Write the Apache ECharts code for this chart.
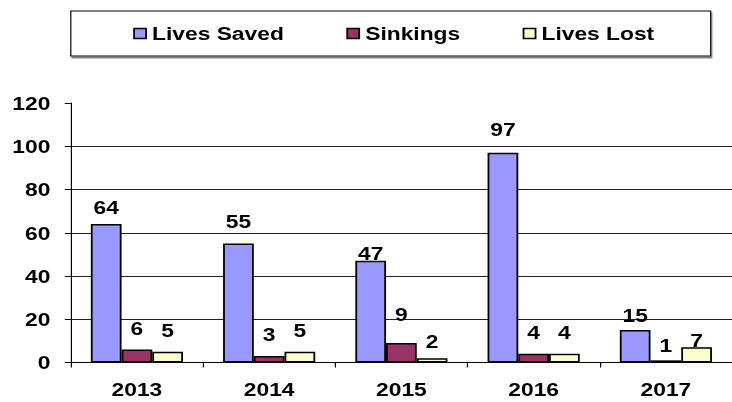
<!DOCTYPE html>
<html>
<head>
<meta charset="utf-8">
<script src="https://cdn.jsdelivr.net/npm/echarts@6/dist/echarts.min.js"></script>
<style>
    html, body { margin: 0; padding: 0; background: #fff; overflow: hidden; }
    /* the source picture is stretched sideways, so draw narrow and widen it */
    #main { width: 610px; height: 402px; transform: scaleX(1.2); transform-origin: 0 0; }
</style>
</head>
<body>
<div id="main"></div>
<script>
const years = ['2013', '2014', '2015', '2016', '2017'];
const livesSaved = [64, 55, 47, 97, 15];
const sinkings = [6, 3, 9, 4, 1];
const livesLost = [5, 5, 2, 4, 7];

// small hand nudges of the value labels, as in the source
const savedNudge = [5, -1, 14, -2, 7];
const sinkNudge = [0, 0, -7, 0, 6];
const lostNudge = [0, 0, 5, 0, 14];

const font = 'Arial, "Liberation Sans", sans-serif';

function makeSeries(name, values, nudge, color) {
    return {
        name: name,
        type: 'bar',
        barWidth: 25.6,
        barGap: 0,
        itemStyle: { color: color, borderColor: '#000', borderWidth: 1.5 },
        label: {
            show: true,
            position: 'top',
            distance: 12,
            color: '#000',
            fontFamily: font,
            fontWeight: 'bold',
            fontSize: 19
        },
        data: values.map((v, i) => ({ value: v, label: { offset: [0, nudge[i]] } }))
    };
}

const chart = echarts.init(document.getElementById('main'), null, { renderer: 'svg' });
chart.setOption({
    animation: false,
    backgroundColor: '#fff',
    legend: {
        left: 59,
        top: 11,
        padding: [13, 47, 13, 52],
        itemGap: 52,
        itemWidth: 10,
        itemHeight: 10,
        borderColor: '#000',
        borderWidth: 1,
        backgroundColor: '#fff',
        shadowColor: '#888',
        shadowBlur: 0,
        shadowOffsetX: 1,
        shadowOffsetY: 2,
        icon: 'rect',
        itemStyle: { borderColor: '#000', borderWidth: 1.5 },
        textStyle: { color: '#000', fontFamily: font, fontWeight: 'bold', fontSize: 19 },
        data: ['Lives Saved', 'Sinkings', 'Lives Lost']
    },
    grid: { left: 59, top: 103, width: 560, height: 259.5 },
    xAxis: {
        type: 'category',
        data: years,
        axisLine: { lineStyle: { color: '#000', width: 1 } },
        axisTick: { show: true, length: 5, lineStyle: { color: '#000' } },
        axisLabel: { color: '#000', fontFamily: font, fontWeight: 'bold', fontSize: 19, margin: 17 }
    },
    yAxis: {
        type: 'value',
        min: 0,
        max: 120,
        interval: 20,
        axisLine: { show: true, lineStyle: { color: '#000', width: 1 } },
        axisTick: { show: true, length: 5, lineStyle: { color: '#000' } },
        axisLabel: { color: '#000', fontFamily: font, fontWeight: 'bold', fontSize: 19, margin: 17 },
        splitLine: { show: true, showMaxLine: false, lineStyle: { color: '#222', width: 1 } }
    },
    series: [
        makeSeries('Lives Saved', livesSaved, savedNudge, '#9999FF'),
        makeSeries('Sinkings', sinkings, sinkNudge, '#993366'),
        makeSeries('Lives Lost', livesLost, lostNudge, '#FFFFCC')
    ]
});
</script>
</body>
</html>
